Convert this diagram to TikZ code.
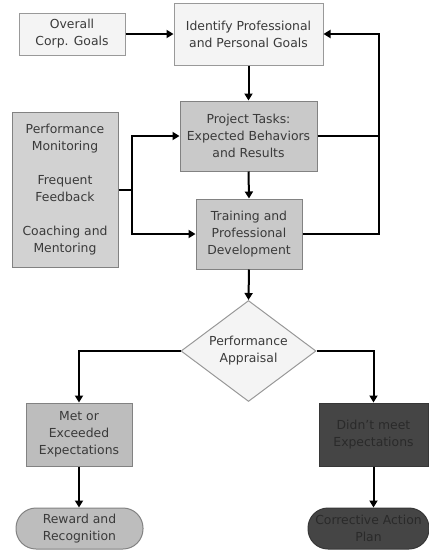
\documentclass[tikz,border=0pt]{standalone}
\usepackage{fontspec}
\setmainfont{DejaVu Sans}
\usetikzlibrary{shapes.geometric,arrows.meta,calc}
\definecolor{txt}{HTML}{3A3A3A}
\definecolor{darktxt}{HTML}{2A2A2A}
\definecolor{lightfill}{HTML}{F4F4F4}
\definecolor{midfill}{HTML}{C9C9C9}
\definecolor{leftfill}{HTML}{D2D2D2}
\definecolor{metfill}{HTML}{BDBDBD}
\definecolor{darkfill}{HTML}{454545}
\definecolor{edge}{HTML}{999999}
\tikzset{
  box/.style={draw=edge, line width=1pt, align=center, inner sep=0pt,
    text=txt, font=\fontsize{12.4}{17}\selectfont},
  lightbox/.style={box, fill=lightfill},
  midbox/.style={box, fill=midfill, draw=edge!85!black},
  metbox/.style={box, fill=metfill, draw=edge!85!black},
  darkbox/.style={box, fill=darkfill, draw=darkfill!80!black, text=darktxt},
  conn/.style={line width=2pt, black},
  arr/.style={conn, -{Triangle[length=7pt,width=8pt]}},
}
\begin{document}
\begin{tikzpicture}[x=1pt,y=-1pt]
\useasboundingbox (0,0) rectangle (429,550);
\node[lightbox, minimum width=106, minimum height=42] (corp) at (72,34) {Overall\\Corp. Goals};
\node[lightbox, minimum width=149, minimum height=62] (ident) at (248.5,34) {Identify Professional\\and Personal Goals};
\node[midbox, minimum width=137, minimum height=70] (proj) at (248.5,136) {Project Tasks:\\Expected Behaviors\\and Results};
\node[box, fill=leftfill, draw=edge!85!black, minimum width=106, minimum height=155] (left) at (65,189.5) {Performance\\Monitoring\\[17pt]Frequent\\Feedback\\[17pt]Coaching and\\Mentoring};
\node[midbox, minimum width=106, minimum height=70] (train) at (249,234) {Training and\\Professional\\Development};
\node[lightbox, shape=diamond, aspect=1.34, minimum width=135, minimum height=101] (dia) at (248.5,351) {Performance\\Appraisal};
\node[metbox, minimum width=106, minimum height=63] (met) at (79,434.5) {Met or\\Exceeded\\Expectations};
\node[darkbox, minimum width=109, minimum height=63] (didnt) at (373.5,434.5) {Didn't meet\\Expectations};
\node[metbox, rounded corners=20pt, minimum width=127, minimum height=41] (reward) at (79.5,528.5) {Reward and\\Recognition};
\node[darkbox, rounded corners=20pt, minimum width=121, minimum height=41] (corr) at (368.5,528.5) {Corrective Action\\Plan};
\coordinate (fb) at (379,0);
\coordinate (jx) at (132,0);
\draw[arr] (corp.east) -- (ident.west);
\draw[arr] (ident.south) -- (proj.north);
\draw[arr] (proj.south) -- (train.north);
\draw[arr] (train.south) -- (dia.north);
\draw[conn] (proj.east) -- (proj.east -| fb);
\draw[arr] (train.east) -- (train.east -| fb) -- (ident.east -| fb) -- (ident.east);
\draw[conn] (left.east) -- (left.east -| jx);
\draw[arr] (left.east -| jx) |- (proj.west);
\draw[arr] (left.east -| jx) |- (train.west);
\draw[arr] (dia.west) -| (met.north);
\draw[arr] (dia.east) -| (didnt.north);
\draw[arr] (met.south) -- (met.south |- reward.north);
\draw[arr] (didnt.south) -- (didnt.south |- corr.north);
\end{tikzpicture}
\end{document}
